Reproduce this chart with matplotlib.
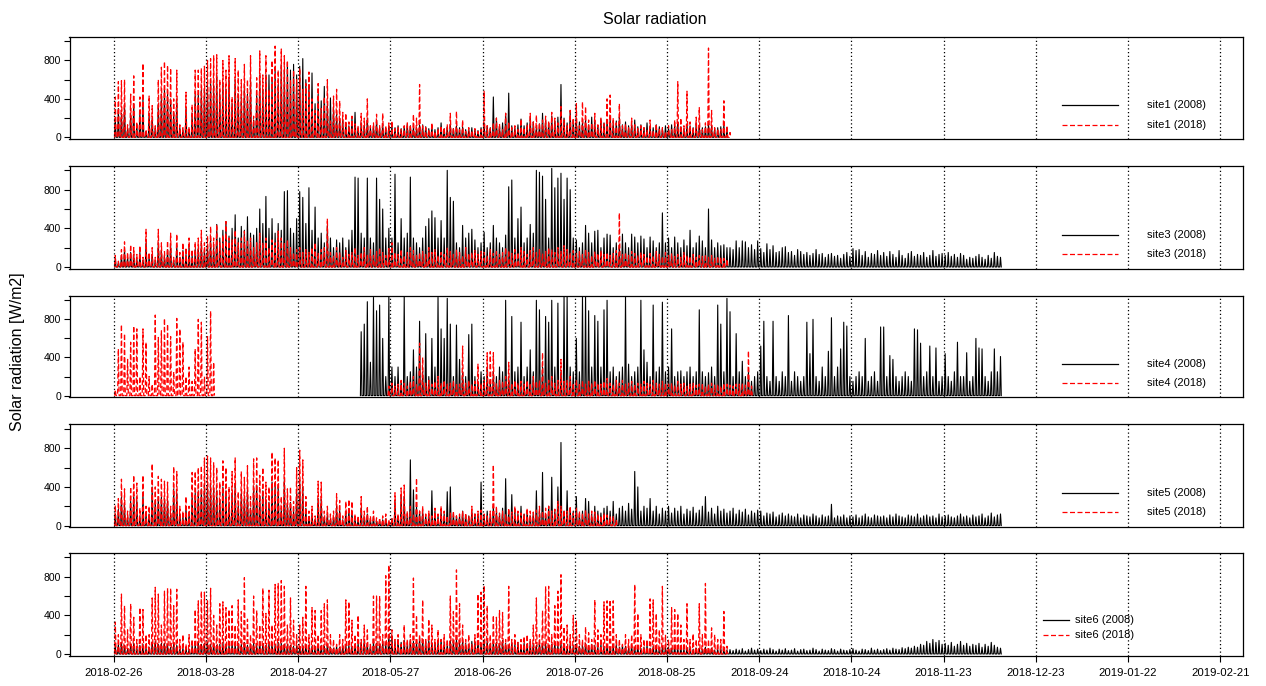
import numpy as np
import matplotlib
matplotlib.use("Agg")
import matplotlib.pyplot as plt
import matplotlib.dates as mdates
from datetime import datetime

plt.rcParams['font.family'] = ['Liberation Sans', 'DejaVu Sans']

# ---------------- data: estimated daily peak solar radiation [W/m2] ----------------
# each list starts at the date given in the matching *_start variable
tick_labels = ["2018-02-26", "2018-03-28", "2018-04-27", "2018-05-27", "2018-06-26",
               "2018-07-26", "2018-08-25", "2018-09-24", "2018-10-24", "2018-11-23",
               "2018-12-23", "2019-01-22", "2019-02-21"]

site1_2008_start = "2018-02-26"
site1_2008 = [200, 300, 250, 350, 100, 250, 350, 120, 250, 400,
              60, 250, 200, 100, 350, 450, 500, 450, 400, 250,
              400, 100, 80, 300, 80, 250, 450, 450, 500, 500,
              550, 600, 550, 650, 450, 550, 500, 600, 350, 600,
              450, 420, 550, 450, 600, 180, 450, 650, 500, 650,
              650, 600, 700, 550, 750, 700, 780, 700, 760, 650,
              740, 820, 600, 550, 670, 350, 450, 380, 530, 350,
              410, 300, 240, 200, 180, 150, 120, 200, 260, 100,
              150, 120, 200, 100, 120, 180, 100, 140, 90, 120,
              130, 100, 120, 90, 110, 140, 120, 110, 100, 130,
              130, 110, 90, 120, 80, 100, 150, 90, 110, 130,
              90, 120, 100, 110, 80, 90, 100, 80, 70, 100,
              150, 120, 100, 420, 200, 120, 150, 250, 460, 120,
              100, 130, 190, 120, 150, 200, 160, 110, 140, 250,
              180, 150, 220, 170, 210, 550, 200, 150, 280, 180,
              200, 160, 150, 180, 130, 210, 170, 120, 190, 150,
              180, 200, 150, 170, 210, 130, 160, 120, 150, 180,
              110, 130, 100, 150, 120, 100, 130, 110, 90, 120,
              100, 130, 120, 160, 110, 90, 140, 120, 100, 150,
              130, 100, 110, 140, 120, 90, 100, 110, 130, 80]

site1_2018_start = "2018-02-26"
site1_2018 = [420, 580, 590, 600, 130, 450, 640, 160, 420, 770,
              80, 430, 330, 120, 600, 730, 790, 750, 720, 400,
              700, 130, 100, 470, 110, 340, 700, 700, 720, 740,
              800, 820, 850, 860, 600, 800, 700, 850, 420, 820,
              700, 600, 760, 600, 850, 220, 620, 900, 650, 850,
              500, 800, 950, 700, 920, 850, 800, 600, 700, 600,
              720, 500, 560, 680, 400, 280, 560, 300, 420, 600,
              170, 430, 500, 380, 260, 250, 160, 220, 140, 120,
              250, 200, 400, 120, 150, 240, 120, 250, 120, 150,
              170, 90, 100, 80, 120, 150, 130, 240, 200, 550,
              120, 100, 80, 150, 60, 90, 120, 100, 130, 250,
              100, 270, 80, 180, 60, 100, 70, 90, 60, 80,
              480, 120, 90, 150, 200, 140, 80, 250, 160, 100,
              120, 80, 190, 100, 130, 250, 160, 230, 150, 180,
              220, 170, 260, 200, 150, 320, 180, 120, 280, 200,
              350, 120, 370, 320, 180, 150, 250, 130, 200, 140,
              400, 440, 200, 150, 350, 120, 140, 100, 200, 130,
              90, 120, 100, 80, 180, 70, 140, 90, 100, 60,
              120, 80, 180, 580, 200, 120, 480, 160, 100, 210,
              310, 80, 150, 930, 280, 100, 90, 80, 380, 120, 50]

site3_2008_start = "2018-02-26"
site3_2008 = [80, 50, 120, 180, 100, 150, 130, 90, 150, 70,
              250, 100, 130, 70, 250, 170, 110, 180, 230, 70,
              220, 100, 170, 130, 200, 120, 180, 200, 250, 170,
              220, 300, 200, 440, 300, 380, 470, 320, 400, 540,
              300, 420, 380, 520, 350, 330, 400, 600, 450, 730,
              400, 500, 350, 450, 380, 780, 790, 400, 350, 500,
              780, 720, 450, 820, 380, 620, 300, 350, 250, 430,
              300, 200, 280, 250, 300, 200, 280, 380, 930, 920,
              350, 300, 920, 300, 250, 920, 700, 600, 300, 400,
              300, 960, 250, 500, 300, 350, 930, 300, 250, 200,
              300, 420, 500, 580, 510, 300, 480, 300, 1000, 720,
              680, 250, 200, 430, 300, 350, 390, 280, 200, 250,
              360, 200, 250, 430, 300, 250, 200, 330, 830, 900,
              300, 500, 620, 250, 300, 440, 350, 1000, 980, 940,
              700, 300, 1020, 820, 920, 970, 700, 920, 800, 300,
              280, 200, 250, 430, 350, 250, 370, 380, 200, 300,
              340, 330, 200, 250, 220, 340, 250, 200, 340, 310,
              250, 320, 290, 200, 310, 270, 200, 250, 560, 250,
              300, 200, 310, 250, 200, 280, 220, 380, 200, 250,
              320, 270, 200, 600, 280, 200, 250, 220, 230, 200,
              200, 180, 270, 200, 270, 260, 200, 230, 180, 270,
              190, 150, 240, 180, 220, 150, 160, 200, 210, 150,
              160, 120, 180, 160, 130, 150, 120, 140, 180, 130,
              140, 100, 130, 140, 110, 120, 90, 130, 150, 110,
              190, 170, 180, 120, 160, 100, 140, 130, 170, 120,
              150, 110, 160, 130, 100, 170, 120, 90, 140, 160,
              110, 130, 120, 150, 100, 120, 170, 110, 130, 140,
              120, 150, 110, 130, 100, 140, 120, 80, 100, 90,
              110, 130, 100, 80, 120, 90, 150, 110, 100]

site3_2018_start = "2018-02-26"
site3_2018 = [120, 60, 180, 260, 150, 230, 200, 130, 220, 100,
              390, 150, 200, 100, 390, 250, 160, 270, 350, 100,
              340, 150, 250, 200, 300, 180, 260, 300, 380, 250,
              320, 420, 300, 440, 250, 330, 470, 300, 280, 380,
              250, 300, 370, 280, 300, 200, 250, 350, 250, 300,
              200, 280, 250, 370, 300, 250, 280, 200, 150, 180,
              200, 150, 180, 150, 200, 250, 140, 180, 200, 500,
              150, 120, 200, 150, 100, 170, 130, 150, 200, 120,
              150, 200, 130, 180, 120, 160, 200, 150, 120, 190,
              250, 150, 130, 180, 120, 150, 200, 170, 120, 150,
              160, 130, 200, 150, 180, 120, 150, 130, 200, 160,
              130, 180, 150, 120, 200, 140, 150, 170, 130, 160,
              150, 120, 180, 140, 160, 130, 150, 200, 170, 140,
              180, 150, 200, 160, 130, 170, 200, 150, 180, 140,
              160, 200, 180, 150, 200, 160, 220, 180, 150, 170,
              140, 160, 130, 180, 150, 120, 160, 140, 170, 130,
              150, 120, 140, 170, 560, 130, 150, 120, 160, 140,
              120, 150, 130, 110, 140, 120, 160, 130, 110, 150,
              120, 140, 110, 130, 100, 150, 120, 110, 130, 100,
              120, 110, 130, 100, 120, 90, 110, 100, 90, 80]

site4_2008_start = "2018-05-17"
site4_2008 = [670, 750, 985, 350, 1030, 890, 950, 600, 200, 1050,
              300, 200, 300, 150, 1040, 200, 250, 480, 300, 780,
              250, 650, 200, 600, 300, 1030, 700, 600, 1020, 750,
              200, 740, 380, 250, 200, 640, 750, 200, 150, 250,
              200, 300, 150, 250, 200, 300, 250, 1000, 200, 830,
              250, 300, 770, 200, 300, 480, 250, 1000, 900, 300,
              830, 770, 1000, 300, 970, 250, 1040, 1040, 300, 250,
              600, 250, 1050, 1050, 890, 300, 840, 780, 300, 900,
              1000, 250, 300, 200, 250, 300, 1040, 330, 200, 250,
              300, 1000, 480, 350, 200, 950, 250, 300, 980, 250,
              300, 700, 200, 250, 260, 200, 250, 300, 200, 250,
              900, 250, 200, 240, 300, 200, 950, 750, 250, 1020,
              880, 200, 650, 250, 360, 200, 250, 150, 200, 250,
              520, 780, 200, 150, 780, 200, 150, 250, 200, 840,
              150, 250, 200, 150, 200, 770, 440, 800, 200, 150,
              300, 200, 465, 817, 200, 300, 490, 770, 730, 200,
              150, 200, 250, 200, 600, 150, 200, 250, 150, 720,
              720, 200, 420, 380, 200, 150, 200, 250, 200, 150,
              700, 690, 550, 200, 250, 520, 200, 500, 150, 200,
              440, 200, 150, 250, 560, 200, 200, 450, 150, 200,
              600, 500, 490, 200, 150, 250, 490, 250, 410]

site4_2018a_start = "2018-02-26"
site4_2018a = [60, 490, 745, 650, 380, 560, 730, 700, 200, 700,
               560, 200, 120, 845, 610, 680, 810, 750, 620, 250,
               810, 700, 560, 200, 300, 150, 490, 800, 770, 200,
               620, 887, 350]

site4_2018b_start = "2018-05-26"
site4_2018b = [100,
               130, 100, 120, 160, 130, 100, 150, 200, 120, 550,
               400, 130, 160, 120, 150, 200, 130, 160, 120, 130,
               160, 130, 120, 520, 130, 160, 120, 150, 330, 130,
               160, 450, 460, 450, 130, 160, 150, 200, 350, 130,
               160, 130, 150, 120, 160, 130, 200, 150, 160, 450,
               130, 160, 200, 130, 160, 380, 150, 160, 200, 130,
               170, 130, 160, 120, 150, 130, 160, 130, 120, 150,
               180, 130, 120, 160, 130, 160, 120, 130, 150, 120,
               130, 120, 150, 130, 120, 160, 130, 120, 150, 130,
               120, 130, 110, 150, 120, 130, 100, 120, 130, 110,
               120, 130, 100, 120, 130, 110, 120, 100, 130, 120,
               110, 100, 120, 120, 130, 110, 470, 100]

site5_2008_start = "2018-02-26"
site5_2008 = [120, 170, 300, 220, 90, 250, 320, 260, 100, 320,
              120, 120, 400, 250, 300, 300, 280, 270, 120, 380,
              340, 120, 90, 180, 120, 330, 340, 360, 380, 420,
              430, 420, 400, 360, 270, 400, 360, 240, 340, 420,
              210, 340, 300, 370, 180, 410, 420, 310, 360, 270,
              240, 450, 420, 400, 180, 480, 230, 240, 150, 360,
              470, 400, 180, 90, 120, 60, 280, 270, 90, 120,
              70, 90, 200, 160, 60, 150, 160, 150, 70, 60,
              180, 90, 120, 60, 90, 50, 50, 60, 70, 40,
              70, 250, 100, 300, 300, 120, 680, 370, 200, 150,
              150, 100, 120, 360, 150, 100, 150, 120, 350, 400,
              120, 100, 100, 150, 110, 100, 150, 120, 120, 450,
              100, 150, 120, 200, 150, 120, 180, 485, 150, 320,
              150, 120, 200, 120, 150, 100, 130, 360, 150, 550,
              120, 200, 500, 150, 400, 860, 150, 360, 180, 150,
              300, 120, 150, 280, 250, 120, 200, 150, 130, 180,
              200, 150, 250, 120, 180, 200, 150, 230, 170, 560,
              400, 150, 200, 180, 280, 150, 200, 120, 180, 150,
              200, 130, 180, 150, 200, 120, 170, 150, 190, 130,
              160, 200, 300, 140, 180, 120, 200, 150, 170, 130,
              150, 180, 120, 160, 140, 170, 110, 150, 130, 160,
              150, 100, 130, 120, 140, 90, 110, 130, 100, 120,
              100, 90, 120, 80, 110, 100, 90, 120, 100, 80,
              110, 90, 100, 220, 80, 100, 90, 110, 80, 100,
              90, 110, 80, 100, 120, 90, 80, 110, 100, 90,
              100, 80, 110, 90, 120, 100, 90, 80, 110, 100,
              90, 120, 80, 100, 110, 90, 100, 80, 120, 90,
              100, 110, 90, 80, 100, 120, 90, 100, 80, 110,
              90, 100, 120, 80, 100, 130, 90, 110, 120]

site5_2018_start = "2018-02-26"
site5_2018 = [210, 280, 480, 380, 150, 400, 520, 440, 180, 520,
              200, 200, 640, 400, 510, 480, 460, 450, 200, 610,
              560, 200, 150, 300, 200, 550, 560, 600, 620, 700,
              720, 700, 650, 600, 450, 670, 600, 400, 560, 700,
              350, 560, 500, 620, 300, 690, 700, 520, 600, 450,
              400, 760, 700, 680, 300, 800, 380, 400, 250, 600,
              780, 680, 300, 150, 200, 100, 460, 450, 150, 200,
              120, 150, 330, 260, 100, 250, 270, 250, 120, 100,
              300, 150, 200, 100, 150, 80, 80, 100, 120, 60,
              80, 340, 120, 390, 420, 150, 200, 120, 490, 150,
              200, 120, 150, 100, 180, 120, 200, 150, 100, 130,
              150, 100, 120, 150, 130, 100, 200, 120, 150, 160,
              120, 100, 150, 630, 200, 130, 150, 120, 180, 140,
              200, 150, 130, 120, 180, 150, 140, 160, 200, 150,
              180, 200, 150, 170, 250, 200, 160, 150, 200, 130,
              180, 150, 130, 160, 120, 150, 140, 120, 100, 130,
              110, 90, 100, 60]

site6_2008_start = "2018-02-26"
site6_2008 = [80, 100, 120, 90, 50, 100, 110, 70, 90, 100,
              60, 70, 120, 130, 100, 110, 110, 100, 70, 100,
              90, 50, 60, 70, 50, 90, 100, 120, 100, 110,
              120, 100, 110, 90, 100, 120, 100, 90, 110, 100,
              110, 100, 120, 90, 100, 110, 90, 120, 100, 90,
              110, 120, 100, 120, 110, 100, 100, 90, 80, 90,
              80, 90, 100, 90, 80, 80, 90, 90, 80, 100,
              70, 60, 80, 70, 90, 100, 90, 80, 90, 110,
              120, 150, 100, 90, 120, 110, 100, 130, 110, 200,
              190, 130, 150, 120, 140, 110, 150, 130, 120, 160,
              150, 130, 140, 120, 110, 130, 150, 120, 100, 140,
              130, 150, 120, 140, 110, 100, 130, 120, 140, 110,
              120, 140, 110, 130, 120, 100, 140, 110, 90, 120,
              100, 120, 90, 110, 100, 130, 110, 90, 120, 100,
              110, 90, 100, 120, 90, 110, 100, 80, 110, 90,
              100, 80, 90, 110, 80, 100, 90, 70, 100, 80,
              90, 70, 80, 100, 70, 90, 80, 60, 90, 70,
              80, 60, 70, 90, 60, 80, 70, 60, 80, 70,
              70, 60, 80, 60, 70, 50, 60, 70, 50, 60,
              60, 50, 70, 50, 60, 40, 50, 60, 50, 40,
              45, 35, 50, 40, 55, 30, 45, 60, 40, 50,
              35, 50, 40, 60, 45, 30, 50, 40, 55, 35,
              40, 55, 30, 45, 50, 35, 40, 60, 45, 30,
              50, 40, 35, 55, 45, 30, 50, 40, 35, 45,
              55, 40, 30, 50, 45, 35, 60, 40, 50, 35,
              45, 55, 40, 60, 50, 45, 65, 55, 70, 60,
              80, 70, 100, 90, 130, 110, 150, 120, 140, 100,
              110, 90, 120, 80, 100, 130, 90, 110, 80, 100,
              90, 110, 70, 100, 80, 120, 90, 70, 60]

site6_2018_start = "2018-02-26"
site6_2018 = [330, 200, 620, 500, 250, 520, 380, 150, 480, 460,
              200, 200, 580, 690, 620, 300, 650, 680, 680, 500,
              670, 150, 200, 100, 200, 150, 460, 550, 650, 640,
              550, 680, 400, 300, 520, 540, 480, 460, 500, 300,
              560, 440, 790, 360, 200, 600, 450, 300, 680, 420,
              660, 300, 720, 730, 760, 700, 300, 580, 350, 200,
              300, 380, 700, 200, 480, 450, 200, 450, 520, 560,
              200, 150, 100, 200, 150, 560, 540, 350, 200, 400,
              150, 300, 250, 100, 600, 600, 600, 200, 810, 920,
              250, 150, 200, 100, 300, 150, 200, 786, 400, 200,
              560, 150, 360, 300, 150, 250, 150, 200, 150, 600,
              440, 870, 520, 300, 150, 200, 100, 200, 620, 640,
              710, 500, 200, 400, 380, 450, 430, 150, 700, 150,
              200, 120, 150, 180, 200, 150, 300, 580, 200, 450,
              700, 700, 200, 500, 650, 820, 280, 300, 200, 400,
              350, 200, 150, 280, 220, 150, 560, 250, 200, 540,
              550, 560, 550, 200, 150, 100, 200, 150, 200, 720,
              420, 200, 150, 150, 570, 560, 420, 250, 700, 200,
              150, 480, 460, 420, 300, 150, 520, 150, 210, 150,
              520, 200, 730, 150, 270, 200, 150, 150, 440, 80]

panels = [
    ("site1", [(site1_2008_start, site1_2008)], [(site1_2018_start, site1_2018)]),
    ("site3", [(site3_2008_start, site3_2008)], [(site3_2018_start, site3_2018)]),
    ("site4", [(site4_2008_start, site4_2008)], [(site4_2018a_start, site4_2018a),
                                                 (site4_2018b_start, site4_2018b)]),
    ("site5", [(site5_2008_start, site5_2008)], [(site5_2018_start, site5_2018)]),
    ("site6", [(site6_2008_start, site6_2008)], [(site6_2018_start, site6_2018)]),
]

RED_DASH = (0, (4, 2))


def trace(start, peaks):
    """daily curve: zero at night, rising after sunrise to the noon peak and back at sunset"""
    t0 = mdates.date2num(datetime.strptime(start, "%Y-%m-%d"))
    days = t0 + np.arange(len(peaks))
    x = np.column_stack([days + 0.25, days + 0.5, days + 0.75]).ravel()
    y = np.column_stack([np.zeros(len(peaks)), peaks, np.zeros(len(peaks))]).ravel()
    return x, y


W, H = 1266, 686
fig = plt.figure(figsize=(W / 100, H / 100), dpi=100)

left, right = 69.5 / W, 1243 / W
tops = [36.7, 165.7, 295.7, 424.3, 552.7]
bottoms = [139, 268.7, 397.3, 527.3, 655.7]

tick_nums = [mdates.date2num(datetime.strptime(t, "%Y-%m-%d")) for t in tick_labels]
x0 = tick_nums[0] - 14.4
x1 = tick_nums[-1] + 7.4

legend_y = [(105, 125), (235, 254), (364, 383), (493, 512), (620, 635)]

for k, (name, blacks, reds) in enumerate(panels):
    ax = fig.add_axes([left, 1 - bottoms[k] / H, right - left, (bottoms[k] - tops[k]) / H])
    for s, vals in blacks:
        x, y = trace(s, vals)
        ax.plot(x, y, color="black", lw=0.8)
    for s, vals in reds:
        x, y = trace(s, vals)
        ax.plot(x, y, color="red", lw=0.9, linestyle=RED_DASH)
    for t in tick_nums:
        ax.axvline(t, color="black", lw=0.9, linestyle=(0, (1, 2)))
    ax.set_xlim(x0, x1)
    ax.set_ylim(-18, 1048)
    ax.set_yticks([0, 200, 400, 600, 800, 1000])
    ax.set_yticklabels(["0", "", "400", "", "800", ""])
    ax.tick_params(axis="y", labelsize=7.5, length=4, width=0.8, pad=2)
    ax.set_xticks(tick_nums)
    if k == 4:
        ax.set_xticklabels(tick_labels)
        ax.tick_params(axis="x", labelsize=8.2, length=4, width=0.8, pad=5)
    else:
        ax.tick_params(axis="x", bottom=False, labelbottom=False)
    for sp in ax.spines.values():
        sp.set_linewidth(0.9)

    # legend (no box), drawn in figure pixel coordinates
    ya, yb = legend_y[k]
    if k < 4:
        lx0, lx1, tx = 1062, 1118, 1147
    else:
        lx0, lx1, tx = 1043, 1069, 1075
    fig.add_artist(plt.Line2D([lx0 / W, lx1 / W], [1 - ya / H, 1 - ya / H],
                              color="black", lw=0.9))
    fig.add_artist(plt.Line2D([lx0 / W, lx1 / W], [1 - yb / H, 1 - yb / H],
                              color="red", lw=0.9, linestyle=RED_DASH))
    fig.text(tx / W, 1 - ya / H, f"{name} (2008)", fontsize=8, va="center", ha="left")
    fig.text(tx / W, 1 - yb / H, f"{name} (2018)", fontsize=8, va="center", ha="left")

fig.text(655 / W, 1 - 20 / H, "Solar radiation", fontsize=11.5, ha="center", va="center")
fig.text(18 / W, 1 - 352 / H, "Solar radiation [W/m2]", fontsize=11.5, rotation=90,
         ha="center", va="center")

fig.savefig("out.png", dpi=100)
